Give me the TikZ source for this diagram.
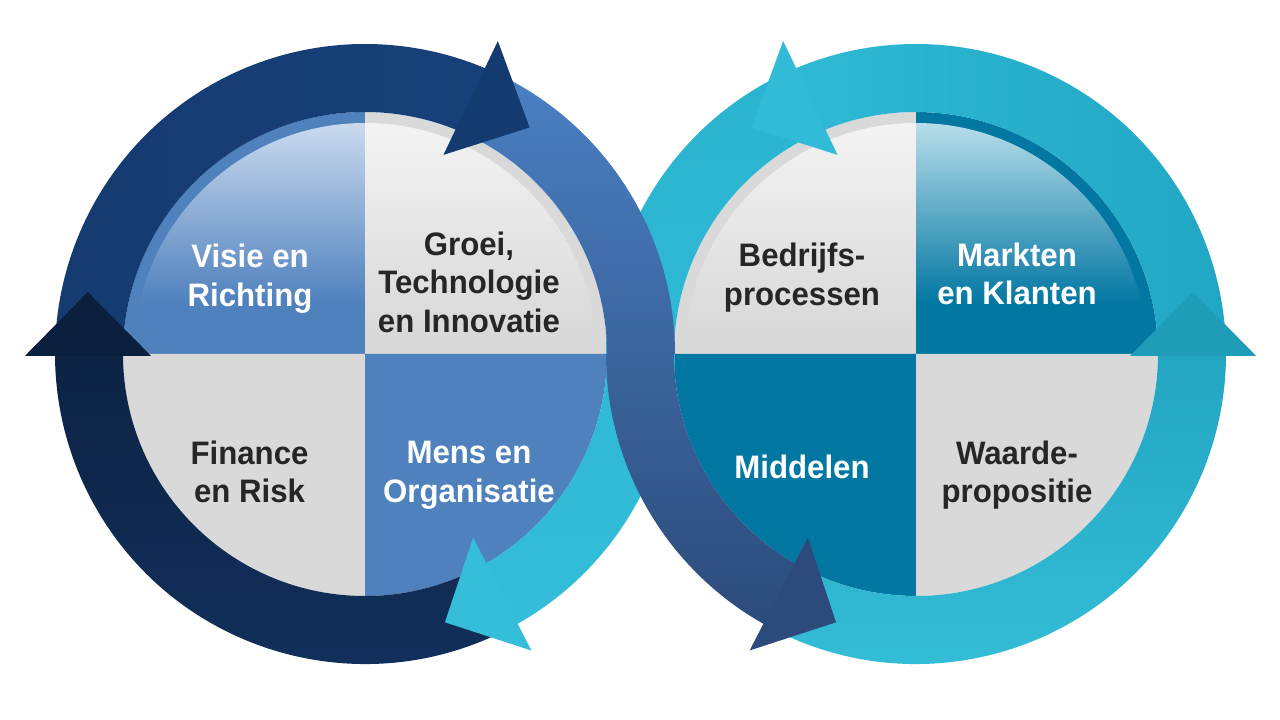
\documentclass[tikz,border=0pt]{standalone}
\usepackage{fontspec}
\setmainfont[FakeStretch=0.96]{Liberation Sans}
\definecolor{qblue}{HTML}{4F81BD}
\definecolor{qbluelt}{HTML}{CADAEE}
\definecolor{qgrey}{HTML}{D9D9D9}
\definecolor{qgreylt}{HTML}{F3F3F3}
\definecolor{qteal}{HTML}{0277A2}
\definecolor{qteallt}{HTML}{B8DDEA}
\definecolor{textdark}{HTML}{262626}
% arrow colours
\definecolor{aAl}{HTML}{153B70}
\definecolor{aAr}{HTML}{17407A}
\definecolor{aAh}{HTML}{143B6F}
\definecolor{aBt}{HTML}{0C2344}
\definecolor{aBb}{HTML}{12315E}
\definecolor{aBh}{HTML}{0A1F3D}
\definecolor{aCt}{HTML}{4A80C3}
\definecolor{aCm}{HTML}{3D6AA8}
\definecolor{aCb}{HTML}{2C4B7B}
\definecolor{aCh}{HTML}{2C4B7C}
\definecolor{aDt}{HTML}{2BB4D0}
\definecolor{aDm}{HTML}{22A7C4}
\definecolor{aDb}{HTML}{33BDD8}
\definecolor{aDh}{HTML}{34BED9}
\definecolor{aEl}{HTML}{2EB9D5}
\definecolor{aEr}{HTML}{21A7C4}
\definecolor{aEh}{HTML}{31BBD7}
\definecolor{aFt}{HTML}{22A5C1}
\definecolor{aFb}{HTML}{36C0DA}
\definecolor{aFh}{HTML}{1F9CB7}
\pgfdeclareverticalshading{tlblue}{100bp}{color(0bp)=(qblue); color(36bp)=(qblue); color(75bp)=(qbluelt); color(100bp)=(qbluelt)}
\pgfdeclareverticalshading{tlgrey}{100bp}{color(0bp)=(qgrey); color(30bp)=(qgrey); color(75bp)=(qgreylt); color(100bp)=(qgreylt)}
\pgfdeclareverticalshading{tlteal}{100bp}{color(0bp)=(qteal); color(36bp)=(qteal); color(75bp)=(qteallt); color(100bp)=(qteallt)}
\tikzset{
  lbl/.style={font=\fontsize{32.5}{38.5}\selectfont\bfseries, align=center, inner sep=0pt},
  wlbl/.style={lbl, text=white},
  dlbl/.style={lbl, text=textdark},
}
\begin{document}
\begin{tikzpicture}[x=1pt,y=1pt]
\useasboundingbox (0,0) rectangle (1280,720);
\fill[white] (0,0) rectangle (1280,720);
\coordinate (L) at (365,366);
\coordinate (R) at (916,366);
% ---------- left disk ----------
\fill[qblue] (L) -- ([shift={(L)}]180:242) arc[start angle=180,end angle=90,radius=242] -- cycle;
\shade[shading=tlblue] (L) -- ([shift={(L)}]180:231) arc[start angle=180,end angle=90,radius=231] -- cycle;
\fill[qgrey] (L) -- ([shift={(L)}]90:242) arc[start angle=90,end angle=0,radius=242] -- cycle;
\shade[shading=tlgrey] (L) -- ([shift={(L)}]90:231) arc[start angle=90,end angle=0,radius=231] -- cycle;
\fill[qgrey] (L) -- ([shift={(L)}]180:242) arc[start angle=180,end angle=270,radius=242] -- cycle;
\fill[qblue] (L) -- ([shift={(L)}]270:242) arc[start angle=270,end angle=360,radius=242] -- cycle;
% ---------- right disk ----------
\fill[qgrey] (R) -- ([shift={(R)}]180:242) arc[start angle=180,end angle=90,radius=242] -- cycle;
\shade[shading=tlgrey] (R) -- ([shift={(R)}]180:231) arc[start angle=180,end angle=90,radius=231] -- cycle;
\fill[qteal] (R) -- ([shift={(R)}]90:242) arc[start angle=90,end angle=0,radius=242] -- cycle;
\shade[shading=tlteal] (R) -- ([shift={(R)}]90:231) arc[start angle=90,end angle=0,radius=231] -- cycle;
\fill[qteal] (R) -- ([shift={(R)}]180:242) arc[start angle=180,end angle=270,radius=242] -- cycle;
\fill[qgrey] (R) -- ([shift={(R)}]270:242) arc[start angle=270,end angle=360,radius=242] -- cycle;
% ---------- arrow shafts ----------
% A: over the top of the left circle
\shade[left color=aAl, right color=aAr] ([shift={(L)}]180:310) arc[start angle=180,end angle=66,radius=310] -- ([shift={(L)}]66:242) arc[start angle=66,end angle=180,radius=242] -- cycle;
% B: bottom and left of the left circle
\shade[top color=aBt, bottom color=aBb] ([shift={(L)}]299:310) arc[start angle=299,end angle=179.5,radius=310] -- ([shift={(L)}]179.5:242) arc[start angle=179.5,end angle=299,radius=242] -- cycle;
% A': over the top of the right circle
\shade[left color=aEl, right color=aEr] ([shift={(R)}]0:310) arc[start angle=0,end angle=114,radius=310] -- ([shift={(R)}]114:242) arc[start angle=114,end angle=0,radius=242] -- cycle;
% B': bottom and right of the right circle
\shade[top color=aFt, bottom color=aFb] ([shift={(R)}]241:310) arc[start angle=241,end angle=360.5,radius=310] -- ([shift={(R)}]360.5:242) arc[start angle=360.5,end angle=241,radius=242] -- cycle;
% D: cyan S-band
\shade[top color=aDt, middle color=aDm, bottom color=aDb] ([shift={(R)}]113:310) arc[start angle=113,end angle=180,radius=310] -- ([shift={(L)}]0:242) arc[start angle=0,end angle=-61.5,radius=242] -- ([shift={(L)}]-61.5:310) arc[start angle=-61.5,end angle=0,radius=310] -- ([shift={(R)}]180:242) arc[start angle=180,end angle=113,radius=242] -- cycle;
% C: blue S-band
\shade[top color=aCt, middle color=aCm, bottom color=aCb] ([shift={(L)}]67:310) arc[start angle=67,end angle=0,radius=310] -- ([shift={(R)}]180:242) arc[start angle=180,end angle=241.5,radius=242] -- ([shift={(R)}]241.5:310) arc[start angle=241.5,end angle=180,radius=310] -- ([shift={(L)}]0:242) arc[start angle=0,end angle=67,radius=242] -- cycle;
% ---------- arrow heads ----------
\fill[aAh] ([shift={(L)}]67:340) -- ([shift={(L)}]54:280) -- ([shift={(L)}]68.5:214) -- cycle;
\fill[aBh] ([shift={(L)}]180.3:340) -- ([shift={(L)}]167.4:284) -- ([shift={(L)}]180.5:214) -- cycle;
\fill[aDh] ([shift={(L)}]-60.7:340) -- ([shift={(L)}]-73.4:280) -- ([shift={(L)}]-59.5:213) -- cycle;
\fill[aEh] ([shift={(R)}]113:340) -- ([shift={(R)}]126:280) -- ([shift={(R)}]111.5:214) -- cycle;
\fill[aFh] ([shift={(R)}]-0.3:340) -- ([shift={(R)}]12.6:284) -- ([shift={(R)}]-0.5:214) -- cycle;
\fill[aCh] ([shift={(R)}]240.7:340) -- ([shift={(R)}]253.4:280) -- ([shift={(R)}]239.5:213) -- cycle;
% ---------- labels ----------
\node[wlbl] (visie) at (250,441.5) {Visie en\\Richting};
\node[dlbl] (groei) at (469,438) {Groei,\\Technologie\\en Innovatie};
\node[dlbl] (finance) at (249.5,248) {Finance\\en Risk};
\node[wlbl] (mens) at (469,244.5) {Mens en\\Organisatie};
\node[dlbl] (bedrijf) at (802,442.5) {Bedrijfs-\\processen};
\node[wlbl] (markten) at (1017,446) {Markten\\en Klanten};
\node[wlbl] (middelen) at (802,253) {Middelen};
\node[dlbl] (waarde) at (1017,245) {Waarde-\\propositie};
\end{tikzpicture}
\end{document}
